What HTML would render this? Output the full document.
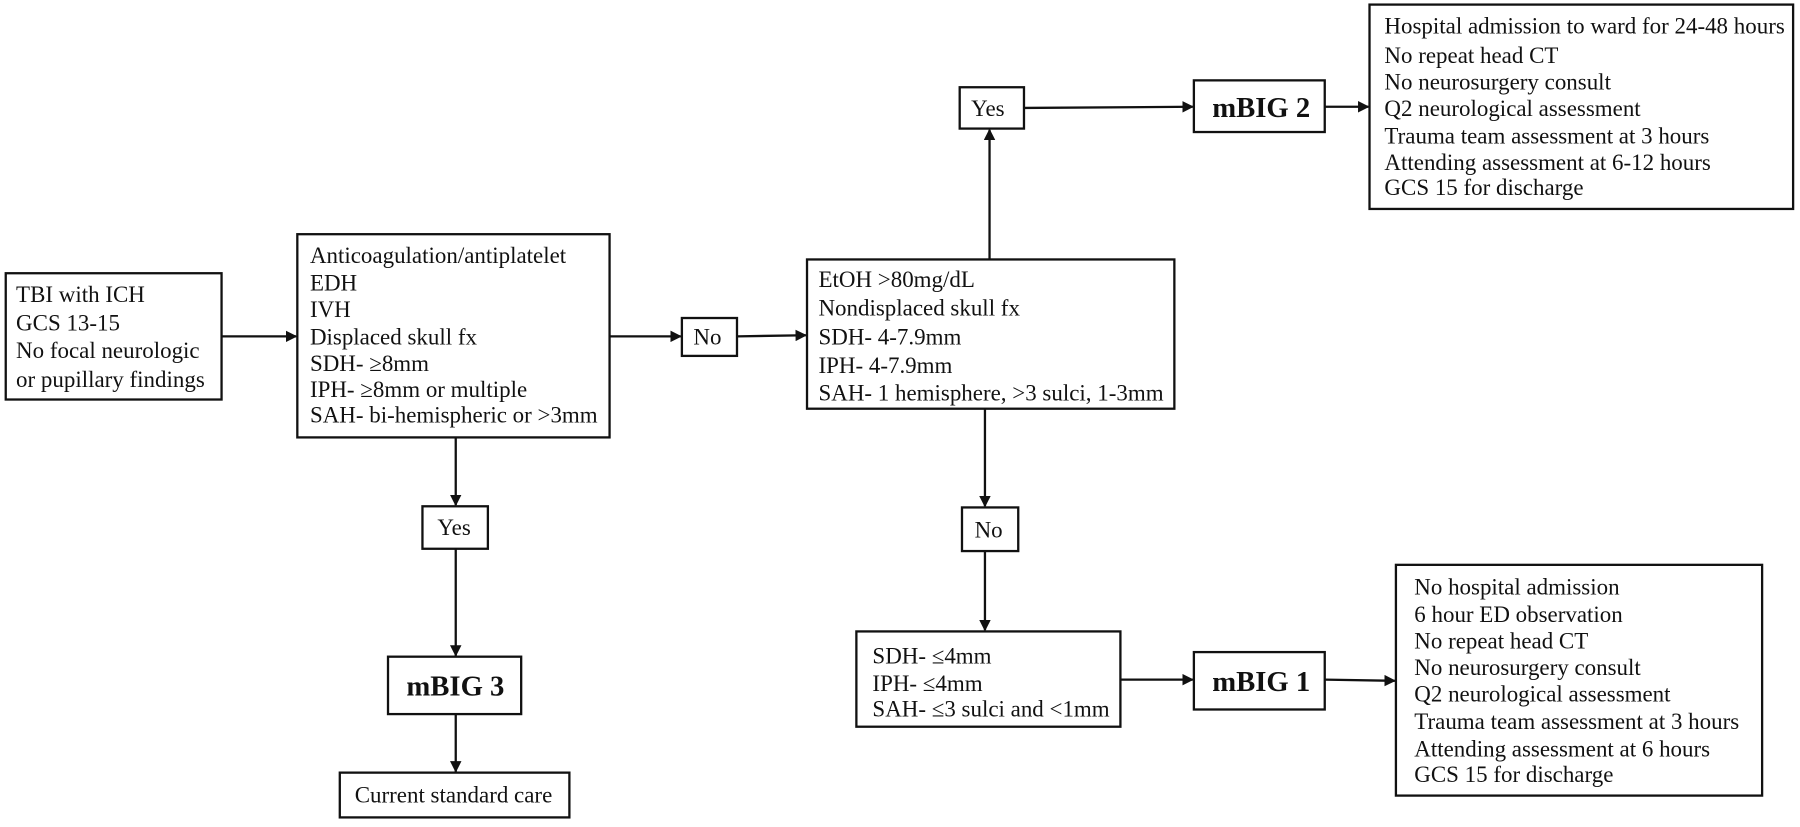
<!DOCTYPE html>
<html><head><meta charset="utf-8"><style>
html,body{margin:0;padding:0;background:#fff}
svg text{font-family:"Liberation Serif",serif;font-size:20px;fill:#111}
.b{font-weight:bold;font-size:25px}
</style></head><body>
<svg width="1800" height="822" viewBox="0 0 1568 716" preserveAspectRatio="none" xmlns="http://www.w3.org/2000/svg">
<defs><marker id="a" markerWidth="10" markerHeight="10" refX="9" refY="5" orient="auto" markerUnits="userSpaceOnUse"><path d="M0,0 L10,5 L0,10 z" fill="#111"/></marker></defs>
<g fill="none" stroke="#111" stroke-width="2">
<rect x="5" y="238" width="188" height="110"/>
<rect x="259" y="204" width="272" height="177"/>
<rect x="594" y="277" width="48" height="33"/>
<rect x="703" y="226" width="320" height="130"/>
<rect x="836" y="76" width="56" height="36"/>
<rect x="1040" y="70" width="114" height="45"/>
<rect x="1193" y="4" width="369" height="178"/>
<rect x="838" y="442" width="49" height="38"/>
<rect x="746" y="550" width="230" height="83"/>
<rect x="1040" y="568" width="114" height="50"/>
<rect x="1216" y="492" width="319" height="201"/>
<rect x="368" y="441" width="57" height="37"/>
<rect x="338" y="572" width="116" height="50"/>
<rect x="296" y="673" width="200" height="39"/>
<line x1="193" y1="293" x2="258" y2="293" marker-end="url(#a)"/>
<line x1="531" y1="293" x2="593" y2="293" marker-end="url(#a)"/>
<line x1="642" y1="293" x2="702" y2="292" marker-end="url(#a)"/>
<line x1="862" y1="226" x2="862" y2="113" marker-end="url(#a)"/>
<line x1="892" y1="94" x2="1039" y2="93" marker-end="url(#a)"/>
<line x1="1154" y1="93" x2="1192" y2="93" marker-end="url(#a)"/>
<line x1="858" y1="356" x2="858" y2="441" marker-end="url(#a)"/>
<line x1="858" y1="480" x2="858" y2="549" marker-end="url(#a)"/>
<line x1="976" y1="592" x2="1039" y2="592" marker-end="url(#a)"/>
<line x1="1154" y1="592" x2="1215" y2="593" marker-end="url(#a)"/>
<line x1="397" y1="381" x2="397" y2="440" marker-end="url(#a)"/>
<line x1="397" y1="478" x2="397" y2="571" marker-end="url(#a)"/>
<line x1="397" y1="622" x2="397" y2="672" marker-end="url(#a)"/>
</g>
<text x="14" y="263">TBI with ICH</text>
<text x="14" y="288">GCS 13-15</text>
<text x="14" y="312">No focal neurologic</text>
<text x="14" y="337">or pupillary findings</text>
<text x="270" y="229">Anticoagulation/antiplatelet</text>
<text x="270" y="253">EDH</text>
<text x="270" y="276">IVH</text>
<text x="270" y="300">Displaced skull fx</text>
<text x="270" y="323">SDH- ≥8mm</text>
<text x="270" y="346">IPH- ≥8mm or multiple</text>
<text x="270" y="368">SAH- bi-hemispheric or &gt;3mm</text>
<text x="604" y="300">No</text>
<text x="713" y="250">EtOH &gt;80mg/dL</text>
<text x="713" y="275">Nondisplaced skull fx</text>
<text x="713" y="300">SDH- 4-7.9mm</text>
<text x="713" y="325">IPH- 4-7.9mm</text>
<text x="713" y="349">SAH- 1 hemisphere, &gt;3 sulci, 1-3mm</text>
<text x="846" y="101">Yes</text>
<text class="b" x="1056" y="102">mBIG 2</text>
<text x="1206" y="29">Hospital admission to ward for 24-48 hours</text>
<text x="1206" y="55">No repeat head CT</text>
<text x="1206" y="78">No neurosurgery consult</text>
<text x="1206" y="101">Q2 neurological assessment</text>
<text x="1206" y="125">Trauma team assessment at 3 hours</text>
<text x="1206" y="148">Attending assessment at 6-12 hours</text>
<text x="1206" y="170">GCS 15 for discharge</text>
<text x="849" y="468">No</text>
<text x="760" y="578">SDH- ≤4mm</text>
<text x="760" y="602">IPH- ≤4mm</text>
<text x="760" y="624">SAH- ≤3 sulci and &lt;1mm</text>
<text class="b" x="1056" y="602">mBIG 1</text>
<text x="1232" y="518">No hospital admission</text>
<text x="1232" y="542">6 hour ED observation</text>
<text x="1232" y="565">No repeat head CT</text>
<text x="1232" y="588">No neurosurgery consult</text>
<text x="1232" y="611">Q2 neurological assessment</text>
<text x="1232" y="635">Trauma team assessment at 3 hours</text>
<text x="1232" y="659">Attending assessment at 6 hours</text>
<text x="1232" y="681">GCS 15 for discharge</text>
<text x="381" y="466">Yes</text>
<text class="b" x="354" y="606">mBIG 3</text>
<text x="309" y="699">Current standard care</text>
</svg>
</body></html>
